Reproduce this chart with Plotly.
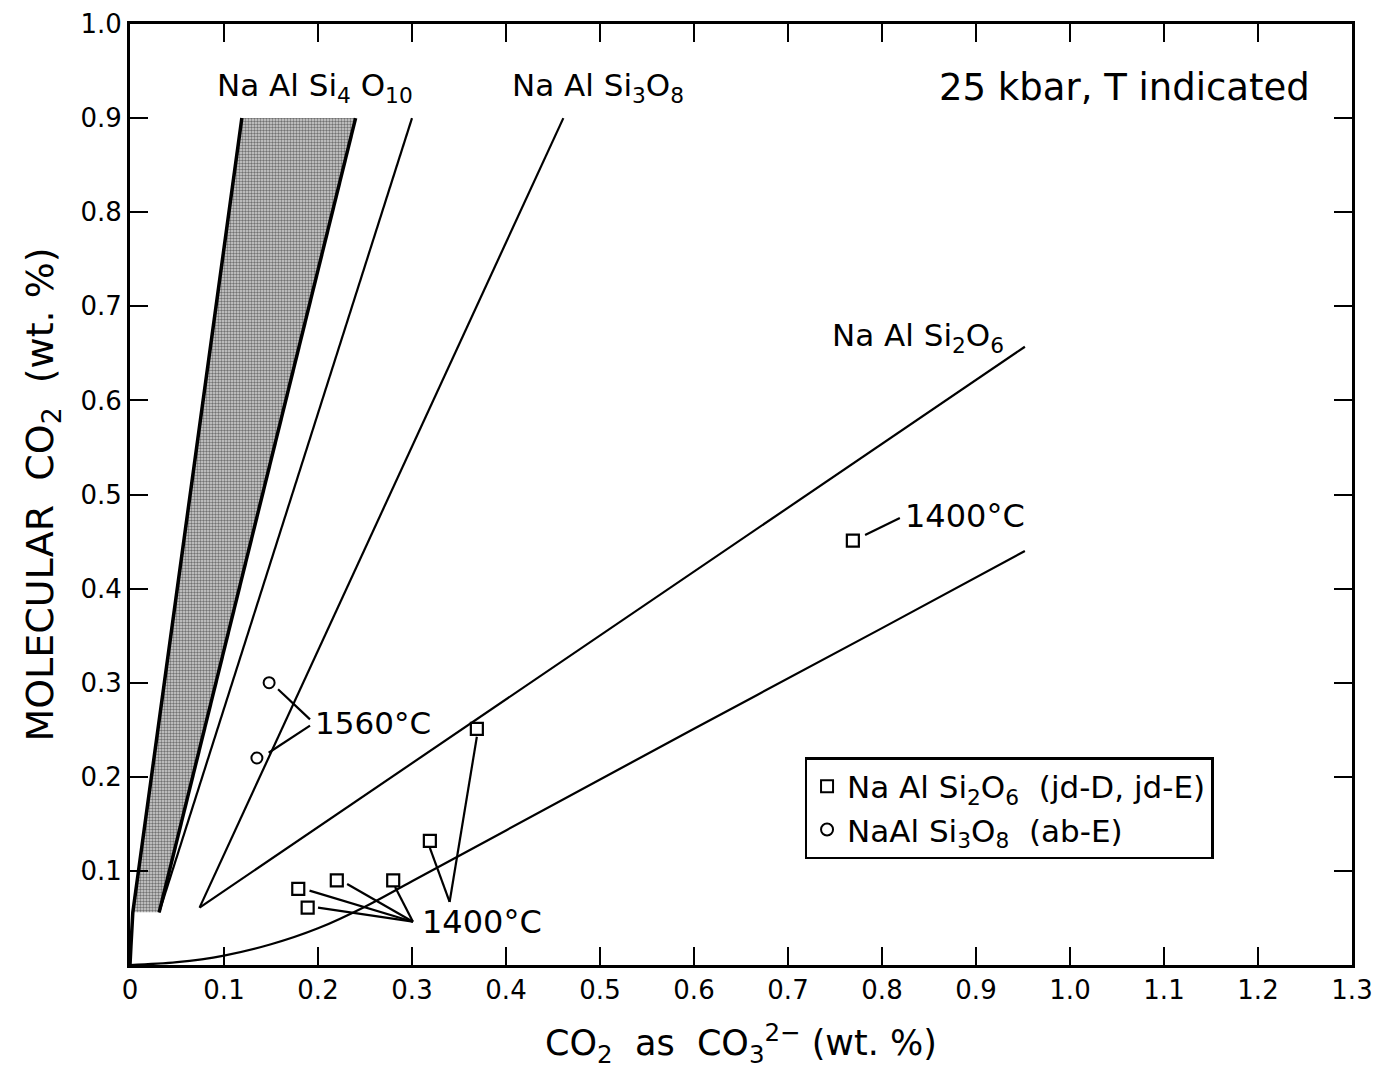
import plotly.graph_objects as go

FONT = "DejaVu Sans"

# ---- data ----
# shaded NaAlSi4O10 band (left edge, right edge)
band_left_x = [0.119, 0.003, 0.001, 0.0]
band_left_y = [0.900, 0.056, 0.020, 0.0]
band_right_x = [0.240, 0.031]
band_right_y = [0.900, 0.056]
band_poly_x = [0.119, 0.240, 0.031, 0.003, 0.119]
band_poly_y = [0.900, 0.900, 0.056, 0.056, 0.900]

# second NaAlSi4O10 line
line_ab4_x = [0.300, 0.031]
line_ab4_y = [0.900, 0.056]
# NaAlSi3O8 line
line_ab_x = [0.461, 0.074]
line_ab_y = [0.900, 0.061]
# NaAlSi2O6 line
line_jd_x = [0.074, 0.952]
line_jd_y = [0.061, 0.657]
# lower curve
curve_x = [0.0, 0.05, 0.10, 0.15, 0.20, 0.25, 0.30, 0.40, 0.60, 0.80, 0.952]
curve_y = [0.0, 0.003, 0.010, 0.022, 0.039, 0.062, 0.089, 0.143, 0.251, 0.358, 0.440]

# measured points
jd_x = [0.769, 0.369, 0.319, 0.280, 0.220, 0.179, 0.189]
jd_y = [0.451, 0.251, 0.132, 0.090, 0.090, 0.081, 0.061]
ab_x = [0.148, 0.135]
ab_y = [0.300, 0.220]

# leader lines (start x, start y, end x, end y)
leaders = [
    (0.782, 0.457, 0.819, 0.475),
    (0.1575, 0.293, 0.1915, 0.261),
    (0.1475, 0.2256, 0.1915, 0.2543),
    (0.191, 0.079, 0.301, 0.046),
    (0.200, 0.061, 0.301, 0.046),
    (0.231, 0.086, 0.301, 0.046),
    (0.282, 0.083, 0.301, 0.046),
    (0.319, 0.1245, 0.340, 0.067),
    (0.369, 0.2426, 0.340, 0.067),
]

x_ticks = [0, 0.1, 0.2, 0.3, 0.4, 0.5, 0.6, 0.7, 0.8, 0.9, 1.0, 1.1, 1.2, 1.3]
x_ticktext = ["0", "0.1", "0.2", "0.3", "0.4", "0.5", "0.6", "0.7", "0.8", "0.9", "1.0", "1.1", "1.2", "1.3"]
y_ticks = [0, 0.1, 0.2, 0.3, 0.4, 0.5, 0.6, 0.7, 0.8, 0.9, 1.0]
y_ticktext = ["", "0.1", "0.2", "0.3", "0.4", "0.5", "0.6", "0.7", "0.8", "0.9", "1.0"]

# ---- figure ----
fig = go.Figure()

fig.add_trace(go.Scatter(
    x=band_poly_x, y=band_poly_y, mode="none", fill="toself",
    fillcolor="#b8b8b8",
    fillpattern=dict(shape=".", fgcolor="#111111", bgcolor="#d2d2d2", size=3, solidity=0.5),
    showlegend=False, hoverinfo="skip"))

for xs, ys, w in [(band_left_x, band_left_y, 3.5), (band_right_x, band_right_y, 3.5),
                  (line_ab4_x, line_ab4_y, 2.2), (line_ab_x, line_ab_y, 2.2),
                  (line_jd_x, line_jd_y, 2.2)]:
    fig.add_trace(go.Scatter(x=xs, y=ys, mode="lines", line=dict(color="black", width=w),
                             showlegend=False, hoverinfo="skip"))

fig.add_trace(go.Scatter(x=curve_x, y=curve_y, mode="lines",
                         line=dict(color="black", width=2.2, shape="spline", smoothing=1.0),
                         showlegend=False, hoverinfo="skip"))

lx, ly = [], []
for x0, y0, x1, y1 in leaders:
    lx += [x0, x1, None]
    ly += [y0, y1, None]
fig.add_trace(go.Scatter(x=lx, y=ly, mode="lines", line=dict(color="black", width=2.2),
                         showlegend=False, hoverinfo="skip"))

fig.add_trace(go.Scatter(
    x=jd_x, y=jd_y, mode="markers",
    marker=dict(symbol="square-open", size=12, color="black", line=dict(width=2.2)),
    name="Na Al Si<sub>2</sub>O<sub>6</sub>  (jd-D, jd-E)"))
fig.add_trace(go.Scatter(
    x=ab_x, y=ab_y, mode="markers",
    marker=dict(symbol="circle-open", size=11, color="black", line=dict(width=2)),
    name="NaAl Si<sub>3</sub>O<sub>8</sub>  (ab-E)"))

def label(x, y, text, size=30, xanchor="left"):
    fig.add_annotation(x=x, y=y, text=text, showarrow=False, xanchor=xanchor, yanchor="middle",
                       font=dict(family=FONT, size=size, color="black"))

label(0.090, 0.933, "Na Al Si<sub>4</sub> O<sub>10</sub>", 31)
label(0.404, 0.933, "Na Al Si<sub>3</sub>O<sub>8</sub>", 31)
label(0.745, 0.667, "Na Al Si<sub>2</sub>O<sub>6</sub>", 31)
label(1.257, 0.933, "25 kbar, T indicated", 37, xanchor="right")
label(0.822, 0.477, "1400°C", 32)
label(0.195, 0.257, "1560°C", 31)
label(0.3085, 0.0457, "1400°C", 32)

axis_common = dict(
    showline=True, linecolor="black", linewidth=3, mirror="ticks",
    ticks="inside", ticklen=18, tickwidth=2.2, tickcolor="black",
    showgrid=False, zeroline=False, automargin=False,
    tickfont=dict(family=FONT, size=26, color="black"),
)

fig.update_layout(
    width=1374, height=1079,
    margin=dict(l=130, r=22, t=24, b=114),
    paper_bgcolor="white", plot_bgcolor="white",
    xaxis=dict(range=[0, 1.3], tickvals=x_ticks, ticktext=x_ticktext,
               title=dict(text="CO<sub>2</sub>  as  CO<sub>3</sub><sup>2−</sup> (wt. %)",
                          font=dict(family=FONT, size=35, color="black"), standoff=27),
               **axis_common),
    yaxis=dict(range=[0, 1.0], tickvals=y_ticks, ticktext=y_ticktext,
               title=dict(text="MOLECULAR  CO<sub>2</sub>  (wt. %)",
                          font=dict(family=FONT, size=38, color="black"), standoff=16),
               **axis_common),
    legend=dict(x=0.552, y=0.221, xanchor="left", yanchor="top",
                bordercolor="black", borderwidth=2.5, bgcolor="white",
                font=dict(family=FONT, size=31, color="black"),
                itemsizing="constant"),
)

fig.write_html("out.html")
